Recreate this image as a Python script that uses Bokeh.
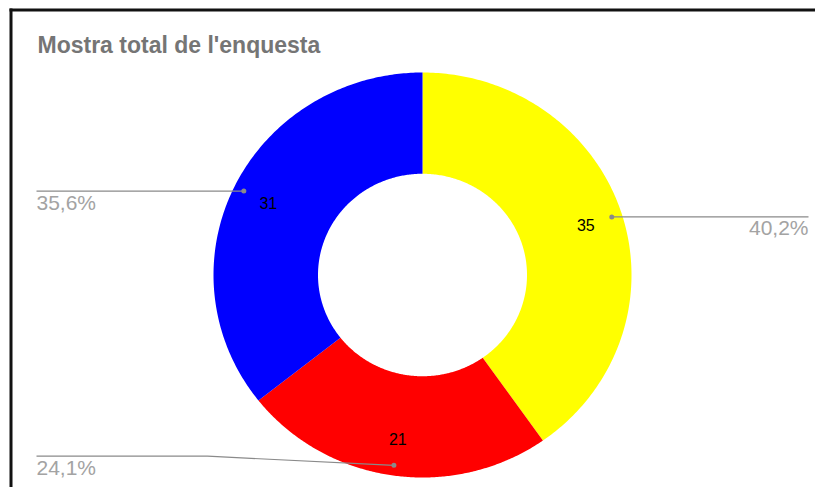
import numpy as np
from bokeh.plotting import figure
from bokeh.models import Range1d
from bokeh.embed import file_html
from bokeh.resources import INLINE
from bokeh.core.properties import value

# ---- data ----
categories = ["Groc", "Vermell", "Blau"]
counts = [35, 21, 31]
pct_labels = ["40,2%", "24,1%", "35,6%"]
colors = ["#ffff00", "#ff0000", "#0000ff"]
title_text = "Mostra total de l'enquesta"

# ---- layout (image pixels) ----
W, H = 815, 487
CX, CY = 422, 274.5        # donut centre (px)
RX, RY = 209, 202.5        # outer radius in px (x, y)
INNER = 0.5


def X(px):
    return (px - CX) / RX


def Y(py):
    return (CY - py) / RY


p = figure(width=W, height=H,
           x_range=Range1d(-CX / RX, (W - CX) / RX),
           y_range=Range1d(-(H - CY) / RY, CY / RY),
           output_backend="svg", toolbar_location=None,
           x_axis_type=None, y_axis_type=None, min_border=0)
p.grid.visible = False
p.outline_line_color = None
p.background_fill_color = "white"
p.border_fill_color = "white"

total = float(sum(counts))
fracs = np.array(counts) / total
ends = np.cumsum(fracs) * 2 * np.pi
starts = ends - fracs * 2 * np.pi
mids = (starts + ends) / 2

xs, ys = [], []
for s, e in zip(starts, ends):
    t = np.linspace(s, e, 200)
    ox, oy = np.sin(t), np.cos(t)
    ix, iy = INNER * np.sin(t[::-1]), INNER * np.cos(t[::-1])
    xs.append(list(np.concatenate([ox, ix])))
    ys.append(list(np.concatenate([oy, iy])))

p.patches(xs=xs, ys=ys, fill_color=colors, line_color=None)

# value labels inside the ring
LR = 0.82
p.text(x=list(LR * np.sin(mids)), y=list(LR * np.cos(mids)),
       text=[str(c) for c in counts],
       text_font=value("Liberation Sans"), text_font_size="16px",
       text_color="black", text_align="center", text_baseline="middle")

# leader lines with dots
DR = 0.95
dot_x = DR * np.sin(mids)
dot_y = DR * np.cos(mids)
left_x = X(36)
right_x = X(808)
elbows = {1: (207, 455.7)}
line_col = "#8a8a8a"
lab_x, lab_y, lab_align = [], [], []
for i in range(len(counts)):
    if dot_x[i] >= 0:
        endx, align = right_x, "right"
    else:
        endx, align = left_x, "left"
    if i in elbows:
        ex, ey = X(elbows[i][0]), Y(elbows[i][1])
        px_ = [dot_x[i], ex, endx]
        py_ = [dot_y[i], ey, ey]
    else:
        px_ = [dot_x[i], endx]
        py_ = [dot_y[i], dot_y[i]]
    p.line(px_, py_, line_color=line_col, line_width=1.2)
    lab_x.append(endx)
    lab_y.append(py_[-1] - 11 / RY)
    lab_align.append(align)

p.scatter(x=list(dot_x), y=list(dot_y), size=5, fill_color=line_col, line_color=None)

for i in range(len(counts)):
    p.text(x=[lab_x[i]], y=[lab_y[i]], text=[pct_labels[i]],
           text_font=value("Liberation Sans"), text_font_size="21px",
           text_color="#a3a3a3", text_align=lab_align[i], text_baseline="middle")

# title
p.text(x=[X(37)], y=[Y(44.5)], text=[title_text],
       text_font=value("Liberation Sans"), text_font_size="23px", text_font_style="bold",
       text_color="#757575", text_align="left", text_baseline="middle")

# frame edges (top and left visible in the reference)
xr1 = (W - CX) / RX
yr0 = -(H - CY) / RY
p.line([X(9), xr1], [Y(9.5), Y(9.5)], line_color="#111111", line_width=3)
p.line([X(10.5), X(10.5)], [Y(8), yr0], line_color="#111111", line_width=3)

open("out.html", "w").write(file_html(p, INLINE))
